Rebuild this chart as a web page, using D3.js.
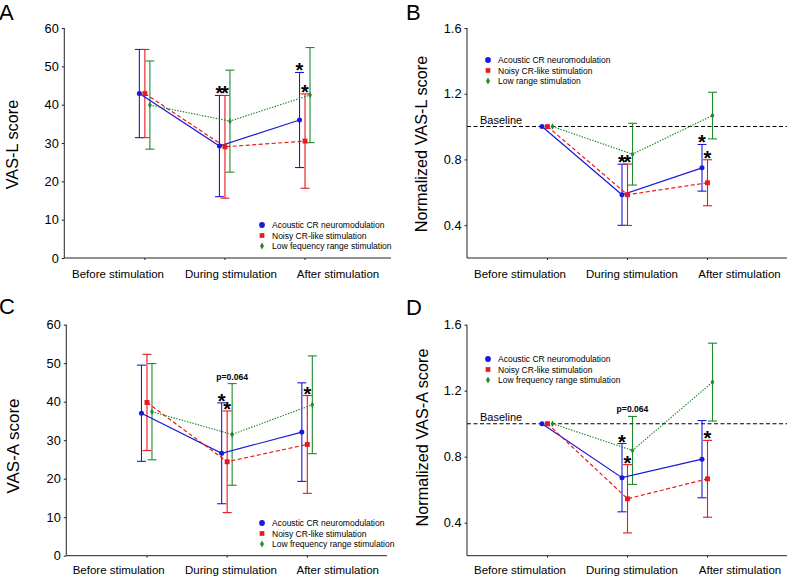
<!DOCTYPE html>
<html><head><meta charset="utf-8">
<script src="https://cdn.jsdelivr.net/npm/d3@7"></script>
<style>
body{margin:0;background:#fff}
svg{display:block}
text{font-family:"Liberation Sans",Arial,Helvetica,sans-serif;fill:#000}
</style>
</head><body>
<svg id="chart" width="788" height="577"></svg>
<script>
// ---------- DATA ----------
const categories = ["Before stimulation", "During stimulation", "After stimulation"];

const rawTicks = [0, 10, 20, 30, 40, 50, 60];
const normTicks = [0.4, 0.8, 1.2, 1.6];

// Panel A: VAS-L score (mean, SD)
const vasLAcousticMean = [42.9, 29.2, 36.0];
const vasLAcousticSD   = [11.5, 13.2, 12.4];
const vasLNoisyMean    = [42.9, 29.0, 30.5];
const vasLNoisySD      = [11.5, 13.4, 12.3];
const vasLLowMean      = [39.9, 35.7, 42.5];
const vasLLowSD        = [11.5, 13.3, 12.4];

// Panel B: normalized VAS-L score
const nVasLAcousticMean = [1.0, 0.585, 0.749];
const nVasLAcousticSD   = [0.0, 0.186, 0.142];
const nVasLNoisyMean    = [1.0, 0.585, 0.658];
const nVasLNoisySD      = [0.0, 0.187, 0.140];
const nVasLLowMean      = [1.0, 0.832, 1.067];
const nVasLLowSD        = [0.0, 0.188, 0.142];

// Panel C: VAS-A score
const vasAAcousticMean = [37.0, 26.6, 32.1];
const vasAAcousticSD   = [12.5, 13.1, 12.8];
const vasANoisyMean    = [39.8, 24.4, 28.9];
const vasANoisySD      = [12.5, 13.2, 12.7];
const vasALowMean      = [37.4, 31.5, 39.2];
const vasALowSD        = [12.5, 13.2, 12.7];

// Panel D: normalized VAS-A score
const nVasAAcousticMean = [1.0, 0.673, 0.785];
const nVasAAcousticSD   = [0.0, 0.207, 0.234];
const nVasANoisyMean    = [1.0, 0.545, 0.666];
const nVasANoisySD      = [0.0, 0.207, 0.233];
const nVasALowMean      = [1.0, 0.838, 1.252];
const nVasALowSD        = [0.0, 0.206, 0.236];

const legendA  = ["Acoustic CR neuromodulation", "Noisy CR-like stimulation", "Low fequency range stimulation"];
const legendB  = ["Acoustic CR neuromodulation", "Noisy CR-like stimulation", "Low range stimulation"];
const legendCD = ["Acoustic CR neuromodulation", "Noisy CR-like stimulation", "Low frequency range stimulation"];

// annotations: series index, category index, text
const annotA = [[0, 1, "*"], [1, 1, "*"], [0, 2, "*"], [1, 2, "*"]];
const annotB = [[0, 1, "*"], [1, 1, "*"], [0, 2, "*"], [1, 2, "*"]];
const annotC = [[0, 1, "*"], [1, 1, "*"], [2, 1, "p=0.064"], [1, 2, "*"]];
const annotD = [[0, 1, "*"], [1, 1, "*"], [2, 1, "p=0.064"], [1, 2, "*"]];

// ---------- STYLE ----------
const colors = ["#1a1ad8", "#e8191c", "#22892a"];
const dashes = [null, "4,2.5", "1.4,1.4"];
const offsets = [-5, 0.5, 5.5];
const FONT = '"Liberation Sans",Arial,Helvetica,sans-serif';

const svg = d3.select("#chart");

function drawPanel(p) {
  const g = svg.append("g");
  const x = d3.scaleLinear().domain(p.xDomain).range([p.x0, p.x1]);
  const y = d3.scaleLinear().domain(p.yDomain).range([p.yBot, p.yTop]);

  // axes
  const yAxis = d3.axisLeft(y).tickValues(p.ticks).tickSize(2.5).tickPadding(3)
    .tickFormat(p.fmt);
  const ya = g.append("g").attr("transform", `translate(${p.x0},0)`).call(yAxis);
  ya.select(".domain").attr("d", `M-0.01,${p.yTop}V${p.yBot}`).attr("stroke", "#222");
  ya.selectAll(".tick line").attr("stroke", "#222");
  ya.selectAll("text").style("font-family", FONT).style("font-size", "12.8px").attr("fill", "#111");

  const xAxis = d3.axisBottom(x).tickValues([0, 1, 2]).tickSize(2).tickFormat("");
  const xa = g.append("g").attr("transform", `translate(0,${p.yBot})`).call(xAxis);
  xa.select(".domain").attr("d", `M${p.x0},0H${p.x1}`).attr("stroke", "#222");
  xa.selectAll(".tick line").attr("stroke", "#222");

  // category labels
  g.selectAll(".cat").data(categories).enter().append("text")
    .attr("x", (d, i) => p.catX[i]).attr("y", p.catY)
    .attr("text-anchor", "middle").style("font-size", "11.5px").text(d => d);

  // y label
  g.append("text").attr("transform", `translate(${p.ylab[0]},${p.ylab[1]}) rotate(-90)`)
    .attr("text-anchor", "middle").style("font-size", p.ylabSize || "16.3px").text(p.ylabel);

  // panel letter
  g.append("text").attr("x", p.letter[1]).attr("y", p.letter[2])
    .style("font-size", "22px").text(p.letter[0]);

  // baseline
  if (p.baseline) {
    g.append("line").attr("x1", p.x0).attr("x2", p.x1)
      .attr("y1", y(1)).attr("y2", y(1))
      .attr("stroke", "#000").attr("stroke-width", 1.1).attr("stroke-dasharray", "4,2.5");
    g.append("text").attr("x", p.baseline[0]).attr("y", p.baseline[1])
      .style("font-size", "11px").text("Baseline");
  }

  const cx = (s, c) => x(c) + offsets[s];

  // error bars
  p.series.forEach((ser, s) => {
    ser.mean.forEach((m, c) => {
      const sd = ser.sd[c];
      if (sd <= 0) return;
      const xc = cx(s, c), yt = y(m + sd), yb = y(m - sd);
      const eg = g.append("g").attr("stroke", colors[s]).attr("stroke-width", 1.1).attr("fill", "none");
      eg.append("line").attr("x1", xc).attr("x2", xc).attr("y1", yt).attr("y2", yb);
      eg.append("line").attr("x1", xc - 4.5).attr("x2", xc + 4.5).attr("y1", yt).attr("y2", yt);
      eg.append("line").attr("x1", xc - 4.5).attr("x2", xc + 4.5).attr("y1", yb).attr("y2", yb);
    });
  });

  // lines
  p.series.forEach((ser, s) => {
    const line = d3.line().x((d, c) => cx(s, c)).y(d => y(d));
    g.append("path").datum(ser.mean).attr("d", line)
      .attr("fill", "none").attr("stroke", colors[s]).attr("stroke-width", 1.2)
      .attr("stroke-dasharray", dashes[s]);
  });

  // markers
  const sym = [d3.symbolCircle, d3.symbolSquare, d3.symbolDiamond];
  const sizes = [20, 24, 12];
  p.series.forEach((ser, s) => {
    g.selectAll(null).data(ser.mean).enter().append("path")
      .attr("d", d3.symbol().type(sym[s]).size(sizes[s]))
      .attr("transform", (d, c) => `translate(${cx(s, c)},${y(d)})`)
      .attr("fill", colors[s]);
  });

  // annotations
  p.annot.forEach(([s, c, t]) => {
    const ser = p.series[s];
    const ycap = y(ser.mean[c] + ser.sd[c]);
    if (t === "*") {
      g.append("text").attr("x", cx(s, c)).attr("y", ycap - 6 + 11)
        .attr("text-anchor", "middle").style("font-size", "20px").style("font-weight", "bold").text(t);
    } else {
      g.append("text").attr("x", cx(s, c)).attr("y", ycap - 7 + 3)
        .attr("text-anchor", "middle").style("font-size", "8.6px").style("font-weight", "bold").text(t);
    }
  });

  // legend
  const lg = g.append("g");
  p.legend.forEach((name, s) => {
    const ly = p.legPos[1] + s * 10.5;
    lg.append("path").attr("d", d3.symbol().type(sym[s]).size([26, 22, 14][s]))
      .attr("transform", `translate(${p.legPos[0]},${ly})`).attr("fill", colors[s]);
    lg.append("text").attr("x", p.legPos[0] + 10).attr("y", ly + 3)
      .style("font-size", "8.5px").text(name);
  });
}

const mk = (a, b, c, d, e, f) => [{mean: a, sd: b}, {mean: c, sd: d}, {mean: e, sd: f}];

drawPanel({
  x0: 64.3, x1: 391, yTop: 28, yBot: 258, xDomain: [-1, 3.08], yDomain: [0, 60],
  ticks: rawTicks, fmt: d3.format("d"),
  catX: [118, 231, 338], catY: 277.5, ylab: [18, 144.5], ylabel: "VAS-L score",
  letter: ["A", -1, 19.5], legPos: [262, 225], legend: legendA, annot: annotA,
  series: mk(vasLAcousticMean, vasLAcousticSD, vasLNoisyMean, vasLNoisySD, vasLLowMean, vasLLowSD)
});
drawPanel({
  x0: 467, x1: 787, yTop: 28, yBot: 258, xDomain: [-1, 3], yDomain: [0.2, 1.6],
  ticks: normTicks, fmt: d3.format(".1f"),
  catX: [520, 632, 739.5], catY: 277.5, ylab: [427, 144], ylabel: "Normalized VAS-L score",
  letter: ["B", 406, 19.5], legPos: [488, 60], legend: legendB, annot: annotB,
  baseline: [480, 123.7],
  series: mk(nVasLAcousticMean, nVasLAcousticSD, nVasLNoisyMean, nVasLNoisySD, nVasLLowMean, nVasLLowSD)
});
drawPanel({
  x0: 66.3, x1: 387, yTop: 324.7, yBot: 555.7, xDomain: [-1, 3], yDomain: [0, 60],
  ticks: rawTicks, fmt: d3.format("d"),
  catX: [118.7, 231, 337.7], catY: 574, ylab: [19, 446], ylabel: "VAS-A score", ylabSize: "17px",
  letter: ["C", -1, 313.5], legPos: [262, 523], legend: legendCD, annot: annotC,
  series: mk(vasAAcousticMean, vasAAcousticSD, vasANoisyMean, vasANoisySD, vasALowMean, vasALowSD)
});
drawPanel({
  x0: 467, x1: 787, yTop: 324.7, yBot: 555.7, xDomain: [-1, 3], yDomain: [0.2, 1.6],
  ticks: normTicks, fmt: d3.format(".1f"),
  catX: [520, 632, 740], catY: 574, ylab: [428, 437.5], ylabel: "Normalized VAS-A score",
  letter: ["D", 406, 314.5], legPos: [488, 359], legend: legendCD, annot: annotD,
  baseline: [480, 420.5],
  series: mk(nVasAAcousticMean, nVasAAcousticSD, nVasANoisyMean, nVasANoisySD, nVasALowMean, nVasALowSD)
});
</script>
</body></html>
